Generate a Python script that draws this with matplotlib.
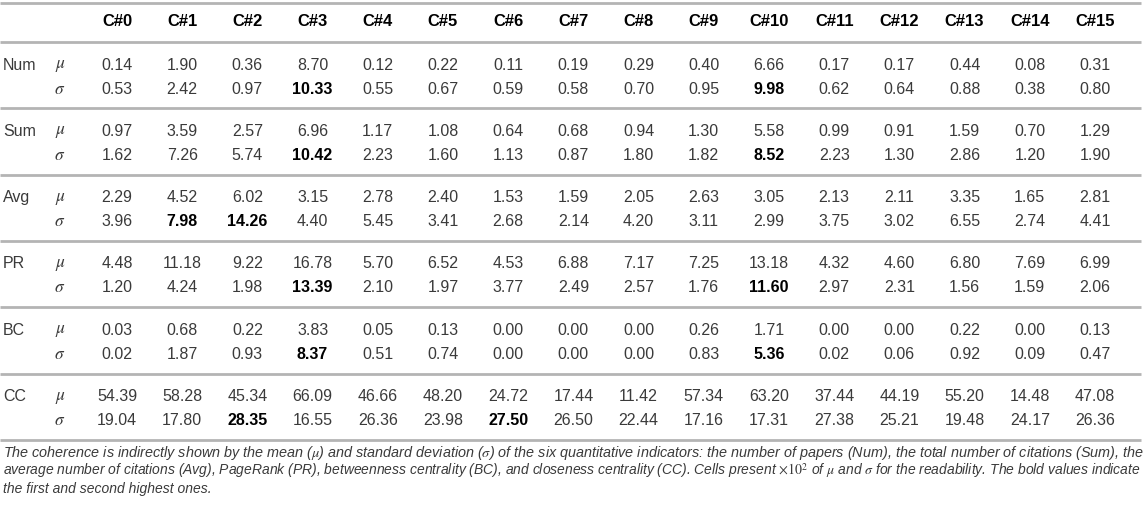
import matplotlib
matplotlib.use("Agg")
import matplotlib.pyplot as plt
import numpy as np

plt.rcParams["font.family"] = ["Liberation Sans", "DejaVu Sans"]
plt.rcParams["mathtext.fontset"] = "stix"

clusters = [f"C#{i}" for i in range(16)]
indicators = ["Num", "Sum", "Avg", "PR", "BC", "CC"]

num_mu = [0.14, 1.90, 0.36, 8.70, 0.12, 0.22, 0.11, 0.19, 0.29, 0.40, 6.66, 0.17, 0.17, 0.44, 0.08, 0.31]
num_sd = [0.53, 2.42, 0.97, 10.33, 0.55, 0.67, 0.59, 0.58, 0.70, 0.95, 9.98, 0.62, 0.64, 0.88, 0.38, 0.80]
sum_mu = [0.97, 3.59, 2.57, 6.96, 1.17, 1.08, 0.64, 0.68, 0.94, 1.30, 5.58, 0.99, 0.91, 1.59, 0.70, 1.29]
sum_sd = [1.62, 7.26, 5.74, 10.42, 2.23, 1.60, 1.13, 0.87, 1.80, 1.82, 8.52, 2.23, 1.30, 2.86, 1.20, 1.90]
avg_mu = [2.29, 4.52, 6.02, 3.15, 2.78, 2.40, 1.53, 1.59, 2.05, 2.63, 3.05, 2.13, 2.11, 3.35, 1.65, 2.81]
avg_sd = [3.96, 7.98, 14.26, 4.40, 5.45, 3.41, 2.68, 2.14, 4.20, 3.11, 2.99, 3.75, 3.02, 6.55, 2.74, 4.41]
pr_mu = [4.48, 11.18, 9.22, 16.78, 5.70, 6.52, 4.53, 6.88, 7.17, 7.25, 13.18, 4.32, 4.60, 6.80, 7.69, 6.99]
pr_sd = [1.20, 4.24, 1.98, 13.39, 2.10, 1.97, 3.77, 2.49, 2.57, 1.76, 11.60, 2.97, 2.31, 1.56, 1.59, 2.06]
bc_mu = [0.03, 0.68, 0.22, 3.83, 0.05, 0.13, 0.00, 0.00, 0.00, 0.26, 1.71, 0.00, 0.00, 0.22, 0.00, 0.13]
bc_sd = [0.02, 1.87, 0.93, 8.37, 0.51, 0.74, 0.00, 0.00, 0.00, 0.83, 5.36, 0.02, 0.06, 0.92, 0.09, 0.47]
cc_mu = [54.39, 58.28, 45.34, 66.09, 46.66, 48.20, 24.72, 17.44, 11.42, 57.34, 63.20, 37.44, 44.19, 55.20, 14.48, 47.08]
cc_sd = [19.04, 17.80, 28.35, 16.55, 26.36, 23.98, 27.50, 26.50, 22.44, 17.16, 17.31, 27.38, 25.21, 19.48, 24.17, 26.36]

mu_rows = [num_mu, sum_mu, avg_mu, pr_mu, bc_mu, cc_mu]
sd_rows = [num_sd, sum_sd, avg_sd, pr_sd, bc_sd, cc_sd]

caption = [
    r"The coherence is indirectly shown by the mean ($\mu$) and standard deviation ($\sigma$) of the six quantitative indicators: the number of papers (Num), the total number of citations (Sum), the",
    r"average number of citations (Avg), PageRank (PR), betweenness centrality (BC), and closeness centrality (CC). Cells present $\times 10^{2}$ of $\mu$ and $\sigma$ for the readability. The bold values indicate",
    r"the first and second highest ones.",
]

W, H = 1143, 507
fig = plt.figure(figsize=(W / 100, H / 100), dpi=100)
ax = fig.add_axes([0, 0, 1, 1])
ax.set_xlim(0, W)
ax.set_ylim(H, 0)
ax.axis("off")

rule_color = "#b4b4b4"
text_color = "#3a3a3a"
fs = 11.5

x_label, x_sym = 3, 60
x0, dx = 117, 65.2
y_top, y_head, y_rule0, dy_block = 3, 22, 42, 66.3
x_right = 1141

ax.hlines([y_top, y_rule0], 0, x_right, color=rule_color, lw=2)
for j, name in enumerate(clusters):
    ax.text(x0 + j * dx, y_head, name, ha="center", va="center",
            fontsize=fs + 0.5, fontweight="bold", color="black")

for i, ind in enumerate(indicators):
    y_rule = y_rule0 + (i + 1) * dy_block
    y_mu = y_rule0 + i * dy_block + 23
    y_sd = y_mu + 24
    ax.hlines(y_rule, 0, x_right, color=rule_color, lw=2)
    ax.text(x_label, y_mu, ind, ha="left", va="center", fontsize=fs, color=text_color)
    ax.text(x_sym, y_mu + 1, r"$\mu$", ha="center", va="center", fontsize=fs + 1, color=text_color)
    ax.text(x_sym, y_sd, r"$\sigma$", ha="center", va="center", fontsize=fs + 1, color=text_color)
    sd = np.array(sd_rows[i])
    top2 = set(np.argsort(-sd)[:2])
    for j in range(len(clusters)):
        ax.text(x0 + j * dx, y_mu, f"{mu_rows[i][j]:.2f}", ha="center", va="center",
                fontsize=fs, color=text_color)
        bold = j in top2
        ax.text(x0 + j * dx, y_sd, f"{sd[j]:.2f}", ha="center", va="center",
                fontsize=fs, fontweight="bold" if bold else "normal",
                color="black" if bold else text_color)

# caption: full lines are sized to span the table width (justified look)
y_cap = y_rule0 + 6 * dy_block + 13
base_fs = 8.6
renderer = fig.canvas.get_renderer()
sizes = []
for line in caption[:2]:
    t = fig.text(0, 0, line, fontsize=base_fs, style="italic")
    w = t.get_window_extent(renderer).width
    t.remove()
    sizes.append(base_fs * (x_right - 4) / w)
sizes.append(min(sizes))

for k, line in enumerate(caption):
    ax.text(3, y_cap + k * 18, line, ha="left", va="center", fontsize=sizes[k],
            style="italic", color=text_color)

fig.savefig("out.png", dpi=100)
